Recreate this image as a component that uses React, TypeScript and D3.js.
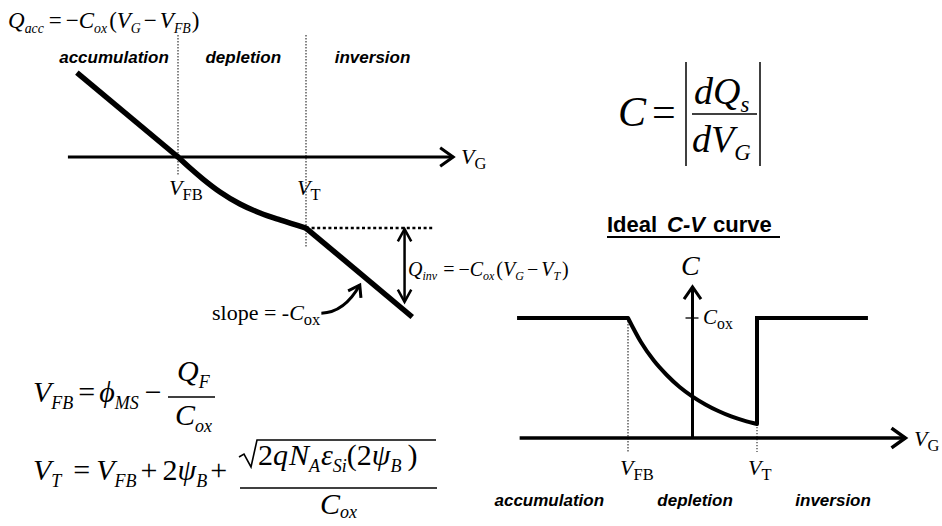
import React from "react";
import * as d3 from "d3";

// Gate-voltage units: flat-band at 1, threshold at 2.
const VFB = 1;
const VT = 2;

// Surface charge Q_s versus V_G (units of the Q axis)
const qAccumulation: [number, number][] = [[0.21, 0.66], [1, 0]];
const qDepletion: [number, number][] = [
  [1, 0], [1.094, -0.086], [1.195, -0.172], [1.328, -0.273],
  [1.484, -0.367], [1.641, -0.4375], [1.797, -0.492], [2, -0.555],
];
const qInversion: [number, number][] = [[2, -0.555], [2.83, -1.25]];

// Ideal C-V curve, C in units of C_ox
const cvAccumulation: [number, number][] = [[0.14, 1], [1, 1]];
const cvDepletion: [number, number][] = [
  [1, 1], [1.1, 0.8], [1.2, 0.645], [1.3, 0.525], [1.4, 0.425], [1.5, 0.345],
  [1.6, 0.28], [1.7, 0.225], [1.8, 0.18], [1.9, 0.145], [2, 0.117],
];
const cvInversion: [number, number][] = [[2, 0.117], [2, 1], [2.86, 1]];

const regionLabels = ["accumulation", "depletion", "inversion"];
const topRegionCenters = [0.5, 1.51, 2.52];
const bottomRegionCenters = [0.39, 1.52, 2.59];

const SERIF = "'Liberation Serif', 'Times New Roman', 'DejaVu Serif', serif";
const SANS = "'Liberation Sans', Arial, sans-serif";

type Part = { t: string; i?: boolean; sub?: boolean; dx?: number; s?: number; b?: number };
const Vr = (t: string, dx = 0): Part => ({ t, i: true, dx });
const Sb = (t: string, i = true, dx = 0, s?: number, b?: number): Part => ({ t, i, sub: true, dx, s, b });
const Op = (t: string, dx = 0): Part => ({ t, dx });

function Eq({ x, y, size, parts }: { x: number; y: number; size: number; parts: Part[] }) {
  let prev = 0;
  return (
    <text x={x} y={y} fontFamily={SERIF} fontSize={size} fill="#000">
      {parts.map((p, k) => {
        const shift = p.sub ? (p.b ?? size * 0.22) : 0;
        const dy = shift - prev;
        prev = shift;
        const fs = p.sub ? size * (p.s ?? 0.6) : size;
        return (
          <tspan key={k} dx={p.dx || 0} dy={dy} fontSize={fs} fontStyle={p.i ? "italic" : "normal"}>
            {p.t}
          </tspan>
        );
      })}
    </text>
  );
}

function chevron(tx: number, ty: number, angle: number, len: number, spread: number) {
  const a1 = angle + Math.PI - spread;
  const a2 = angle + Math.PI + spread;
  return `M${tx + len * Math.cos(a1)},${ty + len * Math.sin(a1)}L${tx},${ty}L${tx + len * Math.cos(a2)},${ty + len * Math.sin(a2)}`;
}

export default function App() {
  const xQ = d3.scaleLinear().domain([VFB, VT]).range([178, 306]);
  const yQ = d3.scaleLinear().domain([0, -1]).range([157, 285]);
  const xC = d3.scaleLinear().domain([VFB, VT]).range([628, 757]);
  const yC = d3.scaleLinear().domain([0, 1]).range([438, 318]);

  const lineQ = d3.line<[number, number]>().x((d) => xQ(d[0])).y((d) => yQ(d[1]));
  const smoothQ = d3.line<[number, number]>().x((d) => xQ(d[0])).y((d) => yQ(d[1])).curve(d3.curveMonotoneX);
  const lineC = d3.line<[number, number]>().x((d) => xC(d[0])).y((d) => yC(d[1]));
  const smoothC = d3.line<[number, number]>().x((d) => xC(d[0])).y((d) => yC(d[1])).curve(d3.curveMonotoneX);

  // Left axis
  const axL0 = xQ(0.14), axL1 = xQ(3.15), axLy = yQ(0);
  // Right axes
  const axR0 = xC(0.16), axR1 = xC(3.15), axRy = yC(0);
  const cAxisX = xC(1.5), cAxisTop = yC(1.26);

  // Q_inv double arrow
  const qArrowX = xQ(2.77);
  const qArrowTop = yQ(qInversion[0][1]);
  const qArrowBot = yQ(-1.14);

  // slope arrow
  const sa0 = [xQ(2.12), yQ(-1.22)];
  const saC = [xQ(2.3), yQ(-1.215)];
  const sa1 = [xQ(2.42), yQ(-1.0)];
  const saAngle = Math.atan2(sa1[1] - saC[1], sa1[0] - saC[0]);

  const dotted = { stroke: "#222", strokeWidth: 1.1, strokeDasharray: "1.4,1.6", fill: "none" };

  return (
    <svg width={942} height={526} style={{ position: "absolute", left: 0, top: 0, background: "#fff" }}>
      <rect x={0} y={0} width={942} height={526} fill="#fff" />

      {/* ---------- Q_s vs V_G ---------- */}
      <Eq x={8} y={28} size={23} parts={[
        Vr("Q"), Sb("acc"), Op("=", 5), Op("\u2212", 4), Vr("C"), Sb("ox"), Op("(", 2),
        Vr("V"), Sb("G"), Op("\u2212", 3), Vr("V", 3), Sb("FB"), Op(")", 1),
      ]} />

      {regionLabels.map((l, k) => (
        <text key={"t" + k} x={xQ(topRegionCenters[k])} y={63} textAnchor="middle"
          fontFamily={SANS} fontSize={17} fontWeight="bold" fontStyle="italic">{l}</text>
      ))}

      <line x1={xQ(VFB)} x2={xQ(VFB)} y1={yQ(0.953)} y2={yQ(-0.14)} {...dotted} />
      <line x1={xQ(VT)} x2={xQ(VT)} y1={yQ(0.953)} y2={yQ(-0.7)} {...dotted} />

      <line x1={axL0} x2={axL1} y1={axLy} y2={axLy} stroke="#000" strokeWidth={3} />
      <path d={chevron(axL1, axLy, 0, 16, 0.62)} stroke="#000" strokeWidth={3} fill="none" />

      <line x1={xQ(VT)} x2={xQ(3.0)} y1={yQ(qInversion[0][1])} y2={yQ(qInversion[0][1])}
        stroke="#000" strokeWidth={2.5} strokeDasharray="3,2.6" />

      <path d={lineQ(qAccumulation) ?? ""} stroke="#000" strokeWidth={5.5} fill="none" />
      <path d={smoothQ(qDepletion) ?? ""} stroke="#000" strokeWidth={5.5} fill="none" strokeLinecap="round" />
      <path d={lineQ(qInversion) ?? ""} stroke="#000" strokeWidth={5.5} fill="none" />

      <line x1={qArrowX} x2={qArrowX} y1={qArrowTop + 1} y2={qArrowBot - 1} stroke="#000" strokeWidth={2.5} />
      <path d={chevron(qArrowX, qArrowTop + 1, -Math.PI / 2, 14, 0.5)} stroke="#000" strokeWidth={2.5} fill="none" />
      <path d={chevron(qArrowX, qArrowBot - 1, Math.PI / 2, 14, 0.5)} stroke="#000" strokeWidth={2.5} fill="none" />

      <Eq x={408} y={276} size={20} parts={[
        Vr("Q"), Sb("inv"), Op("=", 6), Op("\u2212", 4), Vr("C"), Sb("ox"), Op("(", 2),
        Vr("V"), Sb("G"), Op("\u2212", 3), Vr("V", 3), Sb("T"), Op(")", 2),
      ]} />

      <path d={`M${sa0[0]},${sa0[1]}Q${saC[0]},${saC[1]} ${sa1[0]},${sa1[1]}`} stroke="#000" strokeWidth={3} fill="none" />
      <path d={chevron(sa1[0], sa1[1], saAngle, 13, 0.6)} stroke="#000" strokeWidth={3} fill="none" />
      <Eq x={212} y={320} size={22} parts={[Op("slope = -"), Vr("C"), Sb("ox", false, 0, 0.75, 5)]} />

      <Eq x={169} y={195} size={22} parts={[Vr("V"), Sb("FB", false, 0, 0.75, 5)]} />
      <Eq x={297} y={195} size={22} parts={[Vr("V"), Sb("T", false, 0, 0.75, 5)]} />
      <Eq x={461} y={164} size={22} parts={[Vr("V"), Sb("G", false, 0, 0.75, 5)]} />

      {/* ---------- C = |dQs/dVG| ---------- */}
      <Eq x={618} y={126} size={42} parts={[Vr("C"), Op("=", 6)]} />
      <line x1={686} x2={686} y1={62} y2={166} stroke="#000" strokeWidth={1.5} />
      <line x1={760} x2={760} y1={62} y2={166} stroke="#000" strokeWidth={1.5} />
      <line x1={692} x2={757} y1={114} y2={114} stroke="#000" strokeWidth={1.5} />
      <Eq x={694} y={104} size={38} parts={[Vr("d"), Vr("Q"), Sb("s")]} />
      <Eq x={692} y={152} size={38} parts={[Vr("d"), Vr("V"), Sb("G")]} />

      {/* ---------- Ideal C-V curve ---------- */}
      <text y={232} fontFamily={SANS} fontSize={22} fontWeight="bold">
        <tspan x={607}>Ideal</tspan>
        <tspan x={667} fontStyle="italic">C-V</tspan>
        <tspan x={713}>curve</tspan>
      </text>
      <line x1={607} x2={780} y1={237} y2={237} stroke="#000" strokeWidth={2} />

      <line x1={xC(VFB)} x2={xC(VFB)} y1={yC(1)} y2={yC(-0.117)} {...dotted} />
      <line x1={xC(VT)} x2={xC(VT)} y1={yC(cvDepletion[cvDepletion.length - 1][1])} y2={yC(-0.117)} {...dotted} />

      <line x1={axR0} x2={axR1} y1={axRy} y2={axRy} stroke="#000" strokeWidth={3.5} />
      <path d={chevron(axR1, axRy, 0, 17, 0.62)} stroke="#000" strokeWidth={3.5} fill="none" />
      <line x1={cAxisX} x2={cAxisX} y1={axRy} y2={cAxisTop} stroke="#000" strokeWidth={3} />
      <path d={chevron(cAxisX, cAxisTop, -Math.PI / 2, 15, 0.6)} stroke="#000" strokeWidth={3} fill="none" />
      <line x1={cAxisX - 7} x2={cAxisX + 6} y1={yC(1)} y2={yC(1)} stroke="#000" strokeWidth={1.3} />

      <path d={lineC(cvAccumulation) ?? ""} stroke="#000" strokeWidth={4} fill="none" />
      <path d={smoothC(cvDepletion) ?? ""} stroke="#000" strokeWidth={4} fill="none" strokeLinecap="round" />
      <path d={lineC(cvInversion) ?? ""} stroke="#000" strokeWidth={4} fill="none" strokeLinejoin="miter" />

      <Eq x={681} y={275} size={28} parts={[Vr("C")]} />
      <Eq x={703} y={324} size={21} parts={[Vr("C"), Sb("ox", false, 0, 0.75, 5)]} />
      <Eq x={620} y={475} size={22} parts={[Vr("V"), Sb("FB", false, 0, 0.75, 5)]} />
      <Eq x={748} y={475} size={22} parts={[Vr("V"), Sb("T", false, 0, 0.75, 5)]} />
      <Eq x={914} y={446} size={22} parts={[Vr("V"), Sb("G", false, 0, 0.75, 5)]} />

      {regionLabels.map((l, k) => (
        <text key={"b" + k} x={xC(bottomRegionCenters[k])} y={506} textAnchor="middle"
          fontFamily={SANS} fontSize={17} fontWeight="bold" fontStyle="italic">{l}</text>
      ))}

      {/* ---------- V_FB and V_T expressions ---------- */}
      <Eq x={33} y={402} size={30} parts={[
        Vr("V"), Sb("FB"), Op("=", 5), Vr("\u03D5", 4), Sb("MS"), Op("\u2212", 6),
      ]} />
      <line x1={168} x2={215} y1={397} y2={397} stroke="#000" strokeWidth={1.5} />
      <Eq x={177} y={381} size={30} parts={[Vr("Q"), Sb("F")]} />
      <Eq x={175} y={425} size={30} parts={[Vr("C"), Sb("ox")]} />

      <Eq x={33} y={480} size={30} parts={[
        Vr("V"), Sb("T"), Op("=", 12), Vr("V", 6), Sb("FB"), Op("+", 4), Op("2", 5),
        Vr("\u03C8"), Sb("B"), Op("+", 3),
      ]} />
      <path d="M239,457L244,454L251,467L257,440H436" stroke="#000" strokeWidth={1.6} fill="none" />
      <Eq x={258} y={465} size={30} parts={[
        Op("2"), Vr("q"), Vr("N", 1), Sb("A"), Vr("\u03B5", 1), Sb("Si"), Op("("), Op("2"),
        Vr("\u03C8"), Sb("B"), Op(")", 6),
      ]} />
      <line x1={240} x2={437} y1={488} y2={488} stroke="#000" strokeWidth={1.5} />
      <Eq x={320} y={514} size={30} parts={[Vr("C"), Sb("ox", true, 0, 0.6, 4)]} />
    </svg>
  );
}
